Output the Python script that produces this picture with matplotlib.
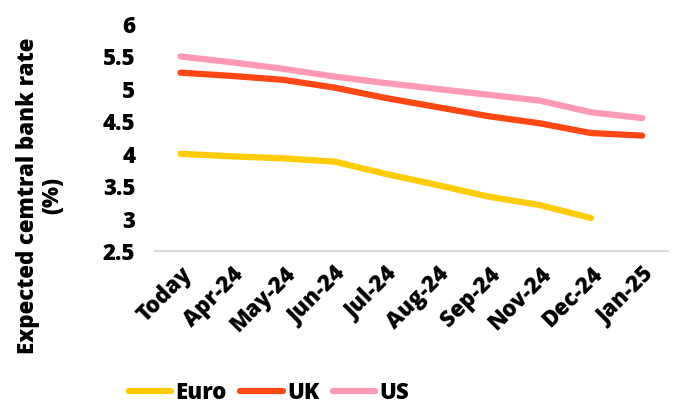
import matplotlib
matplotlib.use("Agg")
import matplotlib.pyplot as plt

# Market-implied policy rate paths
months = ["Today", "Apr-24", "May-24", "Jun-24", "Jul-24", "Aug-24",
          "Sep-24", "Nov-24", "Dec-24", "Jan-25"]
euro = [4.00, 3.96, 3.93, 3.88, 3.69, 3.52, 3.34, 3.21, 3.01]
uk   = [5.25, 5.20, 5.14, 5.02, 4.86, 4.72, 4.58, 4.47, 4.32, 4.28]
us   = [5.50, 5.41, 5.31, 5.19, 5.09, 5.00, 4.91, 4.82, 4.64, 4.55]

COLORS = {"Euro": "#FFCC00", "UK": "#FF4713", "US": "#FF99B5"}
FONT = ["Open Sans", "DejaVu Sans"]
W = 800

plt.rcParams["font.family"] = FONT

fig = plt.figure(figsize=(6.76, 4.07), dpi=100)
ax = fig.add_axes([0.229, 0.383, 0.759, 0.558])

x = list(range(len(months)))
for name, vals in [("Euro", euro), ("UK", uk), ("US", us)]:
    ax.plot(x[:len(vals)], vals, color=COLORS[name], lw=4.5,
            solid_capstyle="round", solid_joinstyle="round", label=name)

ax.set_xlim(-0.5, len(months) - 0.5)
ax.set_ylim(2.5, 6)
ax.set_yticks([2.5, 3, 3.5, 4, 4.5, 5, 5.5, 6])
ax.set_yticklabels(["2.5", "3", "3.5", "4", "4.5", "5", "5.5", "6"],
                   fontsize=16, fontweight=W)
ax.set_xticks(x)
ax.set_xticklabels(months, rotation=45, ha="right", rotation_mode="anchor",
                   fontsize=16, fontweight=W)
ax.tick_params(length=0, pad=8)
ax.tick_params(axis="y", pad=14)

for s in ["top", "right", "left"]:
    ax.spines[s].set_visible(False)
ax.spines["bottom"].set_color("#d9d9d9")
ax.spines["bottom"].set_linewidth(1.5)

fig.text(0.059, 0.52, "Expected cemtral bank rate\n(%)", rotation=90,
         ha="center", va="center", fontsize=16, fontweight=W,
         multialignment="center", linespacing=1.0)

leg = fig.legend(loc="center", bbox_to_anchor=(0.398, 0.034), ncol=3,
                 frameon=False, fontsize=16, handlelength=1.9,
                 columnspacing=0.6, handletextpad=0.2)
for t in leg.get_texts():
    t.set_fontweight(W)

fig.savefig("out.png", dpi=100)
